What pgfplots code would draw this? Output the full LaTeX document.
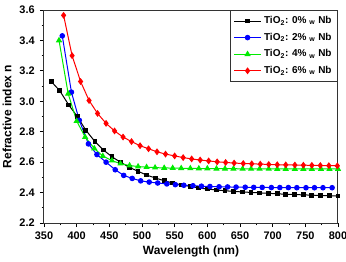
\documentclass[border=0pt]{standalone}
\usepackage{fontspec}
\setmainfont{Liberation Sans}
\usepackage{pgfplots}
\pgfplotsset{compat=1.18}
\usepackage{pgfplotstable}

\pgfplotstableread{
x y
361 3.13
374 3.07
388 2.975
401 2.90
414 2.81
428 2.735
441 2.68
454 2.635
467 2.60
481 2.565
494 2.54
507 2.515
521 2.495
534 2.478
547 2.463
561 2.45
574 2.44
587 2.43
600 2.423
614 2.417
627 2.412
640 2.408
654 2.404
667 2.401
680 2.398
694 2.395
707 2.392
720 2.389
733 2.387
747 2.385
760 2.383
773 2.381
787 2.379
800 2.377
}\tblack

\pgfplotstableread{
x y
378 3.43
392 3.06
404 2.875
418 2.72
431 2.65
445 2.60
459 2.55
472 2.513
485 2.493
498 2.477
511 2.469
524 2.463
538 2.457
551 2.452
564 2.448
578 2.445
591 2.442
604 2.440
618 2.438
631 2.437
644 2.436
658 2.435
671 2.434
684 2.434
698 2.433
711 2.433
724 2.433
737 2.432
751 2.432
764 2.432
777 2.432
791 2.432
}\tblue

\pgfplotstableread{
x y
373 3.40
387 3.05
400 2.87
413 2.765
427 2.69
440 2.64
454 2.61
467 2.59
481 2.578
494 2.571
507 2.567
520 2.564
534 2.562
547 2.561
560 2.560
574 2.559
587 2.558
600 2.558
614 2.557
627 2.557
640 2.557
654 2.556
667 2.556
680 2.556
694 2.556
707 2.555
720 2.555
734 2.555
747 2.555
760 2.555
774 2.555
787 2.555
800 2.555
}\tgreen

\pgfplotstableread{
x y
380 3.565
393 3.30
406 3.13
419 3.005
432 2.92
445 2.855
458 2.805
471 2.765
484 2.735
497 2.708
510 2.688
523 2.668
536 2.653
550 2.641
563 2.630
576 2.621
589 2.614
602 2.608
615 2.602
628 2.598
641 2.594
655 2.591
668 2.589
681 2.587
694 2.585
707 2.583
720 2.582
734 2.581
747 2.580
760 2.579
773 2.578
786 2.577
799 2.576
}\tred

\definecolor{mygreen}{RGB}{0,235,0}

\begin{document}
\begin{tikzpicture}
\begin{axis}[
  name=ax,
  scale only axis,
  width=220.5pt, height=159.75pt,
  xmin=350, xmax=800, ymin=2.2, ymax=3.6,
  xtick={350,400,...,800},
  ytick={2.2,2.4,...,3.6},
  minor x tick num=1,
  minor y tick num=1,
  tick align=outside,
  xtick pos=bottom, ytick pos=left,
  major tick length=3pt, minor tick length=1.8pt,
  every tick/.style={black, line width=0.6pt},
  axis line style={line width=0.75pt, black!80},
  /pgf/number format/assume math mode=true,
  /pgf/number format/fixed,
  /pgf/number format/fixed zerofill,
  yticklabel style={/pgf/number format/precision=1, font=\fontsize{8.2}{10}\selectfont\bfseries, xshift=-0.5pt},
  xticklabel style={/pgf/number format/precision=0, font=\fontsize{8.2}{10}\selectfont\bfseries},
  xlabel={Wavelength (nm)},
  ylabel={Refractive index n},
  xlabel style={font=\fontsize{9}{11}\selectfont\bfseries, yshift=2pt},
  ylabel style={font=\fontsize{9}{11}\selectfont\bfseries, yshift=-1pt},
  legend style={at={(1,1)}, anchor=north east, font=\fontsize{7.5}{9}\selectfont\bfseries,
    draw=black!80, line width=0.6pt, row sep=1.5pt, inner sep=2.5pt, cells={anchor=west}},
  legend cell align=left,
  legend image code/.code={\draw[#1] (0pt,0pt) -- (20pt,0pt); \draw[#1, mark repeat=2, mark phase=2] plot coordinates {(0pt,0pt) (10pt,0pt) (20pt,0pt)};},
  every axis plot/.append style={line width=0.75pt, mark size=1.7pt},
]
\addplot[black, mark=square*, mark size=1.4pt] table[x=x,y=y] {\tblack};
\addlegendentry{TiO\textsubscript{2}: 0\% \textsubscript{w} Nb}
\addplot[blue, mark=*] table[x=x,y=y] {\tblue};
\addlegendentry{TiO\textsubscript{2}: 2\% \textsubscript{w} Nb}
\addplot[mygreen, mark=triangle*, mark size=2pt] table[x=x,y=y] {\tgreen};
\addlegendentry{TiO\textsubscript{2}: 4\% \textsubscript{w} Nb}
\addplot[red, mark=diamond*, mark size=2pt] table[x=x,y=y] {\tred};
\addlegendentry{TiO\textsubscript{2}: 6\% \textsubscript{w} Nb}
\end{axis}
\pgfresetboundingbox
\path[use as bounding box] ([shift={(-33pt,-28.5pt)}]ax.south west) rectangle ([shift={(6pt,7.5pt)}]ax.north east);
\end{tikzpicture}
\end{document}
